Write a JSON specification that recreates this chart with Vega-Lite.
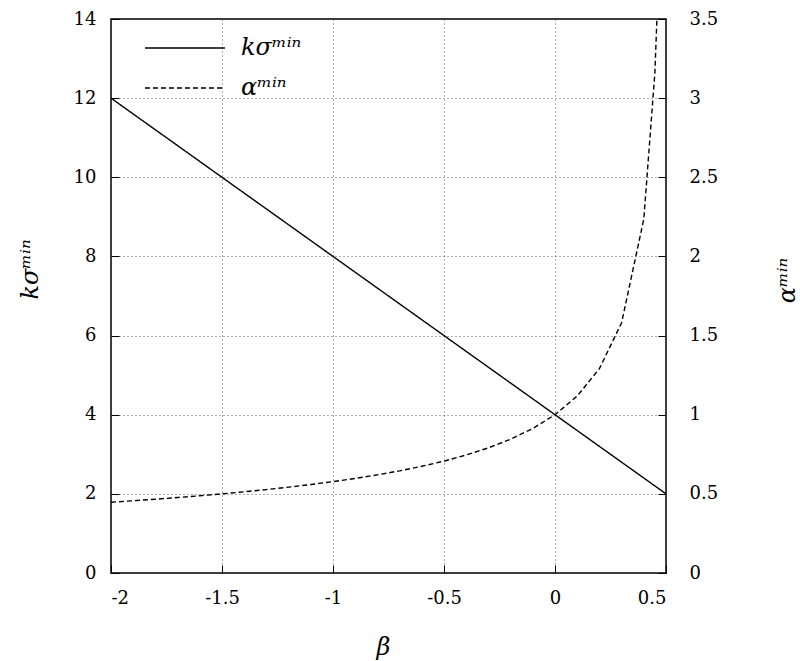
{
  "$schema": "https://vega.github.io/schema/vega-lite/v6.json",
  "width": 555,
  "height": 554,
  "autosize": {"type": "none"},
  "padding": {"left": 111, "top": 19, "right": 134, "bottom": 88},
  "background": "white",
  "config": {
    "view": {"stroke": "#000", "strokeWidth": 1.5},
    "font": "DejaVu Serif",
    "axis": {
      "domain": false,
      "labelFont": "DejaVu Serif",
      "labelFontSize": 18,
      "labelColor": "#000",
      "labelExpr": "'' + datum.value",
      "tickColor": "#000",
      "tickSize": -8,
      "tickWidth": 1,
      "gridColor": "#333",
      "gridDash": [1, 3],
      "gridWidth": 0.8,
      "titleFont": "DejaVu Serif",
      "titleFontSize": 24,
      "titleFontStyle": "italic",
      "titleFontWeight": "normal",
      "titleColor": "#000"
    }
  },
  "datasets": {
    "curve": [
      {"beta": -2.0, "k": 12.0, "alpha": 0.4472},
      {"beta": -1.9, "k": 11.6, "alpha": 0.4564},
      {"beta": -1.8, "k": 11.2, "alpha": 0.4663},
      {"beta": -1.7, "k": 10.8, "alpha": 0.4767},
      {"beta": -1.6, "k": 10.4, "alpha": 0.4880},
      {"beta": -1.5, "k": 10.0, "alpha": 0.5},
      {"beta": -1.4, "k": 9.6, "alpha": 0.5130},
      {"beta": -1.3, "k": 9.2, "alpha": 0.5270},
      {"beta": -1.2, "k": 8.8, "alpha": 0.5423},
      {"beta": -1.1, "k": 8.4, "alpha": 0.5590},
      {"beta": -1.0, "k": 8.0, "alpha": 0.5774},
      {"beta": -0.9, "k": 7.6, "alpha": 0.5976},
      {"beta": -0.8, "k": 7.2, "alpha": 0.6202},
      {"beta": -0.7, "k": 6.8, "alpha": 0.6455},
      {"beta": -0.6, "k": 6.4, "alpha": 0.6742},
      {"beta": -0.5, "k": 6.0, "alpha": 0.7071},
      {"beta": -0.4, "k": 5.6, "alpha": 0.7454},
      {"beta": -0.3, "k": 5.2, "alpha": 0.7906},
      {"beta": -0.2, "k": 4.8, "alpha": 0.8452},
      {"beta": -0.1, "k": 4.4, "alpha": 0.9129},
      {"beta": 0.0, "k": 4.0, "alpha": 1.0},
      {"beta": 0.1, "k": 3.6, "alpha": 1.1180},
      {"beta": 0.2, "k": 3.2, "alpha": 1.2910},
      {"beta": 0.3, "k": 2.8, "alpha": 1.5811},
      {"beta": 0.4, "k": 2.4, "alpha": 2.2361},
      {"beta": 0.45, "k": 2.2, "alpha": 3.1623},
      {"beta": 0.46, "k": 2.16, "alpha": 3.5355},
      {"beta": 0.5, "k": 2.0, "alpha": null}
    ]
  },
  "layer": [
    {
      "data": {"name": "curve"},
      "mark": {"type": "line", "color": "#000", "strokeWidth": 1.4},
      "encoding": {
        "x": {
          "field": "beta", "type": "quantitative",
          "scale": {"domain": [-2, 0.5], "nice": false, "zero": false},
          "axis": {"values": [-2, -1.5, -1, -0.5, 0, 0.5], "title": "β", "labelPadding": 24, "titleX": 272, "titleY": 74, "titleBaseline": "middle", "grid": true}
        },
        "y": {
          "field": "k", "type": "quantitative",
          "scale": {"domain": [0, 14], "nice": false},
          "axis": {"orient": "left", "values": [0, 2, 4, 6, 8, 10, 12, 14], "title": "kσᵐⁱⁿ", "labelPadding": 23, "titleAngle": 270, "titleX": -81, "titleY": 250, "titleBaseline": "middle", "titleAlign": "center", "grid": true}
        },
        "strokeDash": {
          "datum": "kσᵐⁱⁿ", "type": "nominal",
          "scale": {"domain": ["kσᵐⁱⁿ", "αᵐⁱⁿ"], "range": [[1, 0], [5, 3]]},
          "legend": {
            "title": null, "orient": "none", "legendX": 62, "legendY": 17,
            "symbolType": "M-4,0H4", "symbolSize": 400, "symbolStrokeColor": "#000", "symbolStrokeWidth": 1.4,
            "labelFont": "DejaVu Serif", "labelFontSize": 24, "labelFontStyle": "italic", "labelColor": "#000",
            "labelOffset": 44, "rowPadding": 16
          }
        }
      }
    },
    {
      "data": {"name": "curve"},
      "mark": {"type": "line", "color": "#000", "strokeWidth": 1.4, "clip": true},
      "encoding": {
        "x": {"field": "beta", "type": "quantitative"},
        "y": {
          "field": "alpha", "type": "quantitative",
          "scale": {"domain": [0, 3.5], "nice": false},
          "axis": {"orient": "right", "values": [0, 0.5, 1, 1.5, 2, 2.5, 3, 3.5], "title": "αᵐⁱⁿ", "labelPadding": 31, "titleAngle": 270, "titleX": 121, "titleY": 261, "titleBaseline": "middle", "titleAlign": "center", "grid": false}
        },
        "strokeDash": {"datum": "αᵐⁱⁿ", "type": "nominal"}
      }
    }
  ],
  "resolve": {"scale": {"y": "independent"}}
}
